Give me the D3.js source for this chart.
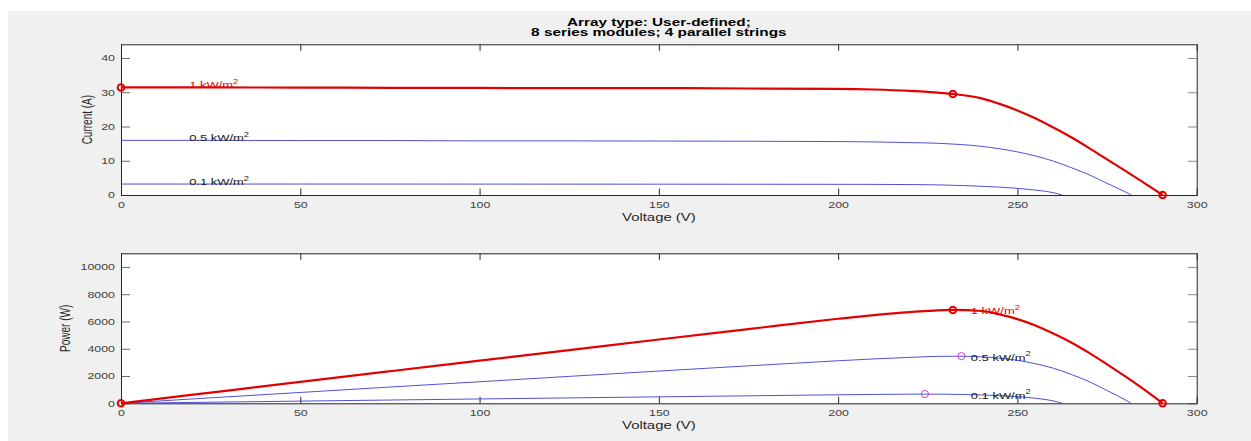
<!DOCTYPE html>
<html><head><meta charset="utf-8">
<script src="https://cdn.jsdelivr.net/npm/d3@7"></script>
<style>body{margin:0;background:#fff;} svg{display:block;}</style>
</head><body><svg id="c" width="1251" height="441"></svg>
<script>
// ---------- data ----------
const titleLines = ["Array type: User-defined;", "8 series modules; 4 parallel strings"];
const xTicks = [0, 50, 100, 150, 200, 250, 300];
const iTicks = [0, 10, 20, 30, 40];
const pTicks = [0, 2000, 4000, 6000, 8000, 10000];
const xLabel = "Voltage (V)";
const iLabel = "Current (A)";
const pLabel = "Power (W)";
const seriesNames = ["1 kW/m", "0.5 kW/m", "0.1 kW/m"];

// 1 kW/m2
const v1000 = [0, 25, 50, 75, 100, 125, 150, 175, 200, 210, 220, 225, 232, 240, 245, 250, 255, 260, 265, 270, 275, 280, 285, 290.5];
const i1000 = [31.4, 31.4, 31.35, 31.3, 31.25, 31.2, 31.2, 31.1, 31.0, 30.8, 30.4, 30.1, 29.5, 28.2, 26.6, 24.7, 22.4, 19.7, 16.85, 13.7, 10.4, 7.1, 3.75, 0];
const p1000 = [0, 785, 1568, 2348, 3125, 3900, 4680, 5443, 6200, 6468, 6688, 6773, 6844, 6768, 6517, 6175, 5712, 5122, 4465, 3699, 2860, 1988, 1069, 0];
// 0.5 kW/m2
const v500 = [0, 25, 50, 75, 100, 125, 150, 175, 200, 210, 220, 228, 234, 240, 245, 250, 255, 260, 265, 270, 275, 280, 281.7];
const i500 = [15.95, 15.95, 15.9, 15.9, 15.8, 15.8, 15.75, 15.7, 15.6, 15.5, 15.3, 15.1, 14.75, 14.2, 13.5, 12.6, 11.4, 9.9, 8.0, 5.9, 3.4, 0.95, 0];
const p500 = [0, 399, 795, 1193, 1580, 1975, 2363, 2748, 3120, 3255, 3366, 3443, 3452, 3408, 3308, 3150, 2907, 2574, 2120, 1593, 935, 266, 0];
// 0.1 kW/m2
const v100 = [0, 50, 100, 150, 200, 210, 220, 225, 230, 235, 240, 245, 250, 255, 258, 260, 262.5];
const i100 = [3.2, 3.2, 3.18, 3.16, 3.12, 3.1, 3.05, 3.0, 2.9, 2.75, 2.55, 2.3, 1.95, 1.45, 1.05, 0.68, 0];
const p100 = [0, 160, 318, 474, 624, 651, 671, 675, 667, 646, 612, 564, 488, 370, 271, 177, 0];

// key points
const iscI = [31.4, 15.95, 3.2];
const vocV = [290.5, 281.7, 262.5];
const mppV = [232, 234.4, 224.2];
const mppI = [29.5, 14.75, 3.03];
const mppP = [6844, 3461, 680];

// ---------- drawing ----------
const SX = 1.38;
const FONT = "'Liberation Sans', Arial, Helvetica, sans-serif";
const RED = "#e30000", BLUE = "#3c3cd2", MAG = "#d23cd2";
const svg = d3.select("#c");

svg.append("rect").attr("x", 0).attr("y", 0).attr("width", 1251).attr("height", 441).attr("fill", "#fff");
svg.append("rect").attr("x", 8).attr("y", 11).attr("width", 1243).attr("height", 430).attr("fill", "#f0f0f0");

const x = d3.scaleLinear().domain([0, 300]).range([121, 1196.7]);
const yI = d3.scaleLinear().domain([0, 44]).range([195, 44.3]);
const yP = d3.scaleLinear().domain([0, 11000]).range([403.3, 253.3]);

function text(g, px, py, s, size, opts = {}) {
  const t = g.append("text")
    .attr("transform", `translate(${px},${py}) scale(${opts.sx || SX},1)` + (opts.rot ? ` rotate(${opts.rot})` : ""))
    .attr("font-family", FONT).attr("font-size", size)
    .attr("font-weight", opts.bold ? "bold" : "normal")
    .attr("text-anchor", opts.anchor || "start")
    .attr("fill", opts.fill || "#262626")
    .text(s);
  if (opts.sup) {
    t.append("tspan").attr("font-size", size * 0.72).attr("dy", -size * 0.45).text(opts.sup);
  }
  return t;
}

function panel(y, yTicks, ylab, ylabX) {
  const [b, t] = y.range();
  const g = svg.append("g");
  g.append("rect").attr("x", x(0)).attr("y", t).attr("width", x(300) - x(0)).attr("height", b - t).attr("fill", "#fff");

  const style = (a) => { a.select(".domain").remove(); a.attr("font-family", FONT).attr("font-size", 9); };

  const ax = g.append("g").attr("transform", `translate(0,${b})`)
    .call(d3.axisBottom(x).tickValues(xTicks).tickSize(-6.5).tickPadding(6.5).tickFormat(d3.format("d")));
  style(ax);
  ax.selectAll("line").attr("stroke", "#262626");
  ax.selectAll("text").attr("fill", "#404040").attr("transform", `scale(${SX},1)`);

  const axT = g.append("g").attr("transform", `translate(0,${t})`)
    .call(d3.axisTop(x).tickValues(xTicks).tickSize(-6.5).tickFormat(""));
  style(axT);
  axT.selectAll("line").attr("stroke", "#262626");

  const ay = g.append("g").attr("transform", `translate(${x(0)},0)`)
    .call(d3.axisLeft(y).tickValues(yTicks).tickSize(-9).tickPadding(6).tickFormat(d3.format("d")));
  style(ay);
  ay.selectAll("line").attr("stroke", "#6a6a6a");
  ay.selectAll("text").attr("fill", "#404040").attr("x", -6 / SX).attr("transform", `scale(${SX},1)`);

  const ayR = g.append("g").attr("transform", `translate(${x(300)},0)`)
    .call(d3.axisRight(y).tickValues(yTicks).tickSize(-9).tickFormat(""));
  style(ayR);
  ayR.selectAll("line").attr("stroke", "#8a8a8a");

  g.append("rect").attr("x", x(0) + 0.5).attr("y", t + 0.5).attr("width", x(300) - x(0)).attr("height", b - t)
    .attr("fill", "none").attr("stroke", "#262626").attr("stroke-width", 1);

  text(g, (x(0) + x(300)) / 2, b + 26, xLabel, 10.8, { anchor: "middle" });
  text(g, ylabX, (t + b) / 2, ylab, 10, { anchor: "middle", rot: -90 });
  return g;
}

const gI = panel(yI, iTicks, iLabel, 92);
const gP = panel(yP, pTicks, pLabel, 70);

// title
text(svg, (x(0) + x(300)) / 2, 25.5, titleLines[0], 10.8, { anchor: "middle", bold: true, fill: "#000", sx: 1.42 });
text(svg, (x(0) + x(300)) / 2, 36, titleLines[1], 10.8, { anchor: "middle", bold: true, fill: "#000", sx: 1.42 });

function draw(g, y, vs, ys, color, w) {
  const pts = vs.map((v, k) => [v, ys[k]]);
  g.append("path").datum(pts)
    .attr("d", d3.line().x(d => x(d[0])).y(d => y(d[1])).curve(d3.curveMonotoneX))
    .attr("fill", "none").attr("stroke", color).attr("stroke-width", w).attr("stroke-linejoin", "round");
}

// I-V
draw(gI, yI, v100, i100, BLUE, 0.9);
draw(gI, yI, v500, i500, BLUE, 0.9);
draw(gI, yI, v1000, i1000, RED, 2.2);
// P-V
draw(gP, yP, v100, p100, BLUE, 0.9);
draw(gP, yP, v500, p500, BLUE, 0.9);
draw(gP, yP, v1000, p1000, RED, 2.2);

// curve labels
const labColors = [RED, "#1a1a1a", "#1a1a1a"];
seriesNames.forEach((s, k) => {
  text(gI, x(19), yI(iscI[k]) + 1, s, 9.4, { fill: labColors[k], sup: "2" });
  text(gP, x(237), yP(mppP[k]) + 4.5, s, 9.4, { fill: labColors[k], sup: "2" });
});

// markers
function circ(g, cx, cy, r, color, w) {
  g.append("circle").attr("cx", cx).attr("cy", cy).attr("r", r)
    .attr("fill", "none").attr("stroke", color).attr("stroke-width", w);
}
circ(gI, x(0), yI(iscI[0]), 3.3, RED, 2);
circ(gI, x(mppV[0]), yI(mppI[0]), 3.3, RED, 2);
circ(gI, x(vocV[0]), yI(0), 3.3, RED, 2);
circ(gP, x(0), yP(0), 3.3, RED, 2);
circ(gP, x(mppV[0]), yP(mppP[0]), 3.3, RED, 2);
circ(gP, x(vocV[0]), yP(0), 3.3, RED, 2);
circ(gP, x(mppV[1]), yP(mppP[1]), 3.6, MAG, 1);
circ(gP, x(mppV[2]), yP(mppP[2]), 3.6, MAG, 1);
</script></body></html>
